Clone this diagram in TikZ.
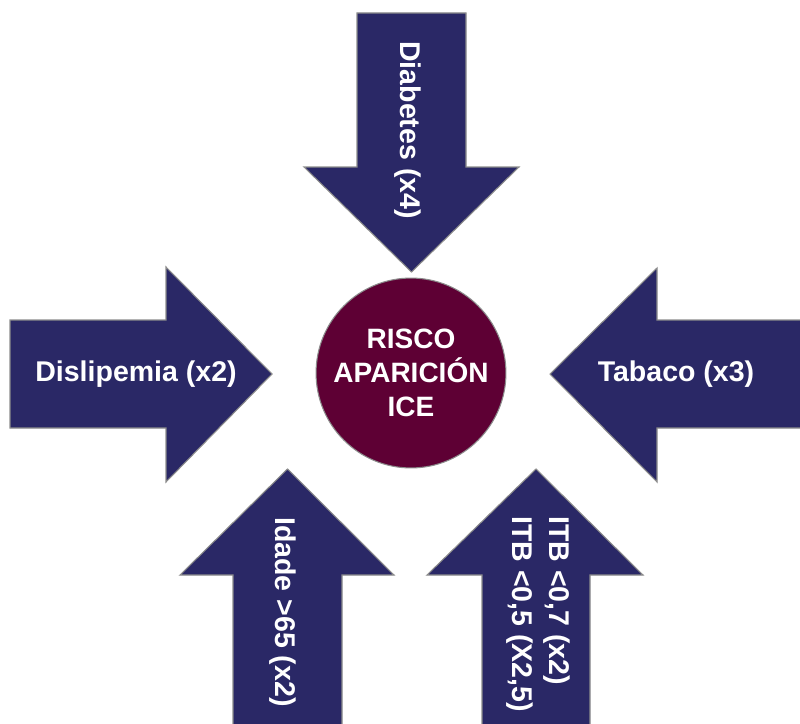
\documentclass[tikz,border=0pt]{standalone}
\usepackage{fontspec}
\setmainfont{Liberation Sans}
\usepackage{tikz}
\definecolor{icenavy}{RGB}{42,40,102}
\definecolor{icewine}{RGB}{94,0,52}
\definecolor{iceedge}{RGB}{140,140,140}

\begin{document}
\begin{tikzpicture}[x=0.75pt, y=-0.75pt,
    bigarrow/.style={fill=icenavy, draw=iceedge, line width=0.8pt},
    arrowtext/.style={text=white, font=\fontsize{21.4}{27.5}\selectfont\bfseries, inner sep=0pt}]
                \useasboundingbox (0,0) rectangle (800,724);

                % Arrow from the top
                \draw[bigarrow] (357,13) -- (466,13) -- (466,167) -- (519,167) -- (411.5,272)
                    -- (304,167) -- (357,167) -- cycle;
                \node[arrowtext, rotate=-90] (diab) at (408,130) {Diabetes (x4)};

                % Arrow from the left
                \draw[bigarrow] (10,320) -- (166,320) -- (166,267) -- (272,374) -- (166,482)
                    -- (166,428) -- (10,428) -- cycle;
                \node[arrowtext] (disl) at (136,374) {Dislipemia (x2)};

                % Arrow from the right
                \draw[bigarrow] (802,320) -- (657,320) -- (657,268) -- (550,374) -- (657,482)
                    -- (657,428) -- (802,428);
                \node[arrowtext] (taba) at (676,374) {Tabaco (x3)};

                % Arrows from below
                \draw[bigarrow] (233,726) -- (233,575) -- (180,575) -- (287.5,469) -- (394,575)
                    -- (342,575) -- (342,726);
                \node[arrowtext, rotate=-90] (idad) at (283,612) {Idade >65 (x2)};

                \draw[bigarrow] (482,726) -- (482,575) -- (427,575) -- (536,469) -- (643,575)
                    -- (590,575) -- (590,726);
                \node[arrowtext, rotate=-90, align=left, anchor=west] (itb) at (538.5,516)
                    {ITB <0,7 (x2)\\ITB <0,5 (X2,5)};

                % Centre
                \node[circle, fill=icewine, draw=iceedge, line width=0.8pt, minimum size=141pt,
                    text=white, align=center, font=\fontsize{21}{25.5}\selectfont\bfseries]
                    (risco) at (411,373) {RISCO\\APARICIÓN\\ICE};
            \end{tikzpicture}
\end{document}
